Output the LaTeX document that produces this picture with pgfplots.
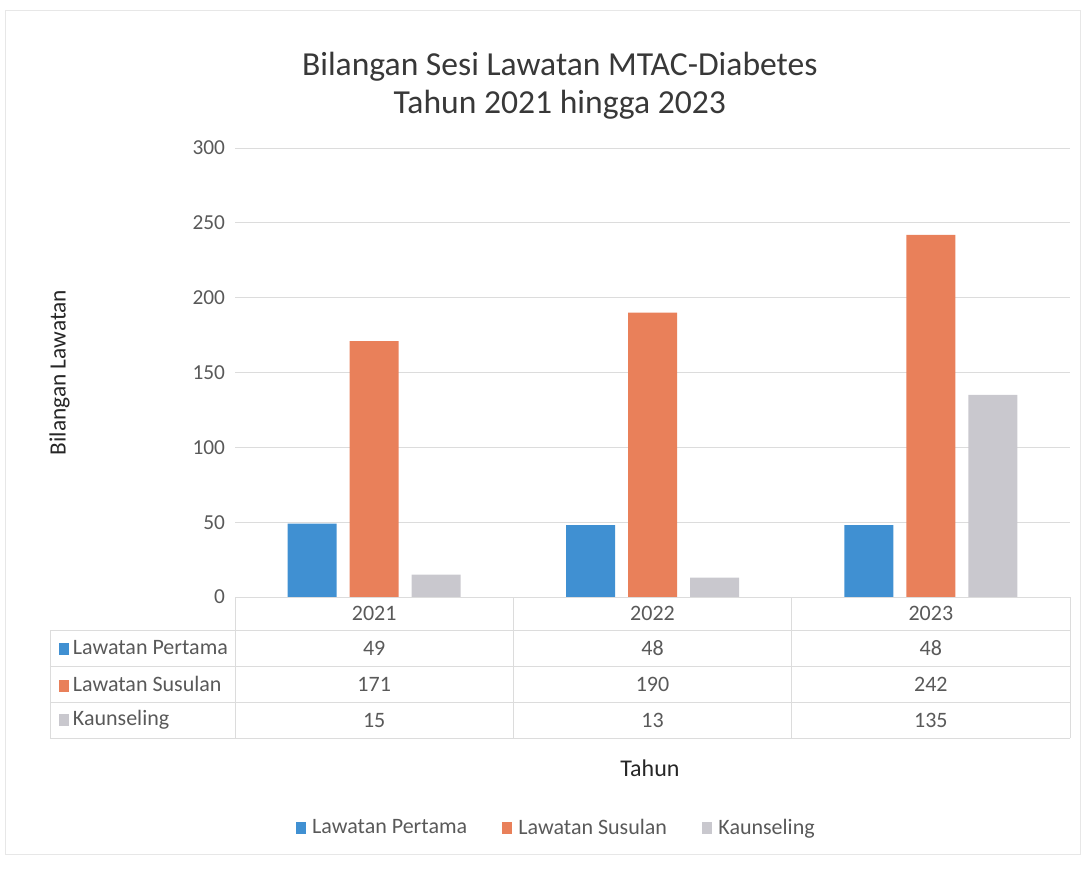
\documentclass[border=0pt]{standalone}
\usepackage{pgfplots}
\pgfplotsset{compat=1.18}
\usepackage{fontspec}
\setmainfont{Carlito}
\definecolor{cblue}{HTML}{4090D2}
\definecolor{corange}{HTML}{E9805A}
\definecolor{cgrey}{HTML}{C9C8CE}
\definecolor{txt}{HTML}{595959}
\definecolor{gridc}{HTML}{DCDCDC}
\begin{document}
\begin{tikzpicture}
\path (0,0) rectangle (813.75pt,-652.5pt);
\draw[gridc!70, line width=0.6pt] (4pt,-7.5pt) rectangle (810pt,-641pt);
\begin{axis}[
  at={(176.25pt,-111pt)}, anchor=north west,
  scale only axis, width=626.25pt, height=336.75pt,
  ybar=9.75pt, bar width=36.75pt,
  xmin=-0.5, xmax=2.5, ymin=0, ymax=300,
  ytick={0,50,...,300}, xtick=\empty,
  axis line style={draw=none},
  major tick length=0pt,
  ymajorgrids, grid style={gridc, line width=0.6pt},
  /pgf/number format/assume math mode=true,
  tick label style={font=\fontsize{16}{18}\selectfont, text=txt},
  yticklabel style={xshift=-4pt},
  ylabel={Bilangan Lawatan},
  ylabel style={at={(axis description cs:-0.21,0.5)}, anchor=center, font=\fontsize{17.5}{20}\selectfont, text=black!85},
  xlabel={Tahun},
  xlabel style={at={(axis description cs:0.497,-0.381)}, anchor=center, font=\fontsize{18}{20}\selectfont, text=black!85},
  title={Bilangan Sesi Lawatan MTAC-Diabetes\\Tahun 2021 hingga 2023},
  title style={at={(axis description cs:0.389,1.122)}, anchor=center, align=center, font=\fontsize{25.2}{28.5}\selectfont, text=black!78},
  legend style={at={(axis description cs:0.385,-0.514)}, anchor=center, draw=none, fill=none,
    legend columns=3, font=\fontsize{16.5}{18}\selectfont, text=txt,
    /tikz/every even column/.append style={column sep=24pt},
    /tikz/every odd column/.append style={column sep=3pt}},
  legend image code/.code={\fill[#1] (0pt,-4.5pt) rectangle (7.5pt,4.5pt);},
  clip=false,
]
\addplot[fill=cblue, draw=none] coordinates {(0,49) (1,48) (2,48)};
\addplot[fill=corange, draw=none] coordinates {(0,171) (1,190) (2,242)};
\addplot[fill=cgrey, draw=none] coordinates {(0,15) (1,13) (2,135)};
\legend{Lawatan Pertama, Lawatan Susulan, Kaunseling}
% data table grid
\draw[gridc, line width=0.6pt] (axis cs:-0.5,0) -- (axis cs:2.5,0);
\draw[gridc, line width=0.6pt] ([xshift=-138.75pt,yshift=-24.75pt]axis cs:-0.5,0) -- ([yshift=-24.75pt]axis cs:2.5,0);
\draw[gridc, line width=0.6pt] ([xshift=-138.75pt,yshift=-51.75pt]axis cs:-0.5,0) -- ([yshift=-51.75pt]axis cs:2.5,0);
\draw[gridc, line width=0.6pt] ([xshift=-138.75pt,yshift=-78.75pt]axis cs:-0.5,0) -- ([yshift=-78.75pt]axis cs:2.5,0);
\draw[gridc, line width=0.6pt] ([xshift=-138.75pt,yshift=-105.75pt]axis cs:-0.5,0) -- ([yshift=-105.75pt]axis cs:2.5,0);
\draw[gridc, line width=0.6pt] (axis cs:-0.5,0) -- ([yshift=-105.75pt]axis cs:-0.5,0);
\draw[gridc, line width=0.6pt] (axis cs:0.5,0) -- ([yshift=-105.75pt]axis cs:0.5,0);
\draw[gridc, line width=0.6pt] (axis cs:1.5,0) -- ([yshift=-105.75pt]axis cs:1.5,0);
\draw[gridc, line width=0.6pt] (axis cs:2.5,0) -- ([yshift=-105.75pt]axis cs:2.5,0);
\draw[gridc, line width=0.6pt] ([xshift=-138.75pt,yshift=-24.75pt]axis cs:-0.5,0) -- ([xshift=-138.75pt,yshift=-105.75pt]axis cs:-0.5,0);
\node[font=\fontsize{16.5}{18}\selectfont, text=txt] at ([yshift=-12.4pt]axis cs:0,0) {2021};
\node[font=\fontsize{16.5}{18}\selectfont, text=txt] at ([yshift=-12.4pt]axis cs:1,0) {2022};
\node[font=\fontsize{16.5}{18}\selectfont, text=txt] at ([yshift=-12.4pt]axis cs:2,0) {2023};
\node[font=\fontsize{16.5}{18}\selectfont, text=txt] at ([yshift=-38.25pt]axis cs:0,0) {49};
\node[font=\fontsize{16.5}{18}\selectfont, text=txt] at ([yshift=-38.25pt]axis cs:1,0) {48};
\node[font=\fontsize{16.5}{18}\selectfont, text=txt] at ([yshift=-38.25pt]axis cs:2,0) {48};
\node[font=\fontsize{16.5}{18}\selectfont, text=txt] at ([yshift=-65.25pt]axis cs:0,0) {171};
\node[font=\fontsize{16.5}{18}\selectfont, text=txt] at ([yshift=-65.25pt]axis cs:1,0) {190};
\node[font=\fontsize{16.5}{18}\selectfont, text=txt] at ([yshift=-65.25pt]axis cs:2,0) {242};
\node[font=\fontsize{16.5}{18}\selectfont, text=txt] at ([yshift=-92.25pt]axis cs:0,0) {15};
\node[font=\fontsize{16.5}{18}\selectfont, text=txt] at ([yshift=-92.25pt]axis cs:1,0) {13};
\node[font=\fontsize{16.5}{18}\selectfont, text=txt] at ([yshift=-92.25pt]axis cs:2,0) {135};
\node[anchor=west, inner sep=0pt, font=\fontsize{16.5}{18}\selectfont, text=txt] at ([xshift=-132pt,yshift=-38.25pt]axis cs:-0.5,0) {{\color{cblue}\rule[-0.5pt]{7.5pt}{9pt}}\,Lawatan Pertama};
\node[anchor=west, inner sep=0pt, font=\fontsize{16.5}{18}\selectfont, text=txt] at ([xshift=-132pt,yshift=-65.25pt]axis cs:-0.5,0) {{\color{corange}\rule[-0.5pt]{7.5pt}{9pt}}\,Lawatan Susulan};
\node[anchor=west, inner sep=0pt, font=\fontsize{16.5}{18}\selectfont, text=txt] at ([xshift=-132pt,yshift=-92.25pt]axis cs:-0.5,0) {{\color{cgrey}\rule[-0.5pt]{7.5pt}{9pt}}\,Kaunseling};
\end{axis}
\end{tikzpicture}
\end{document}
